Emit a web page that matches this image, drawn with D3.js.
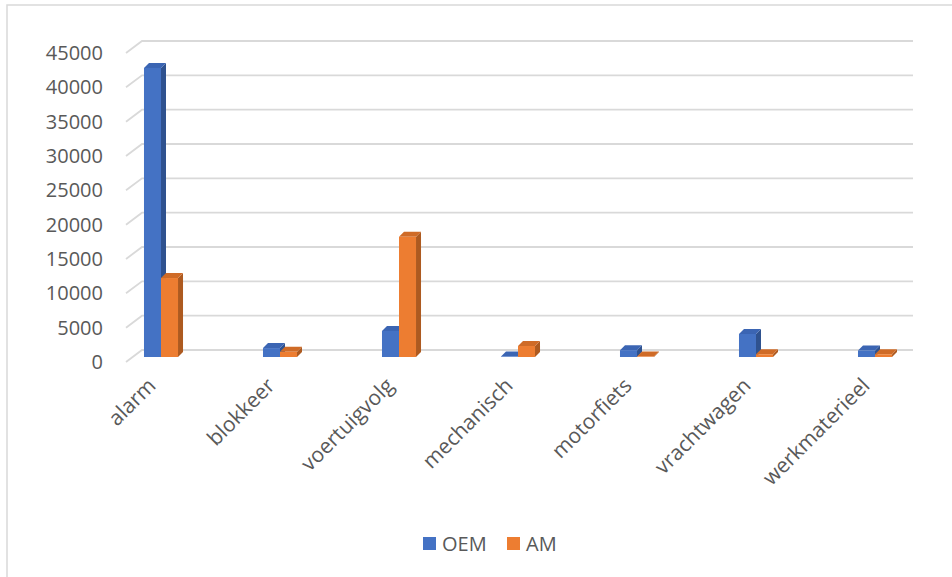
<!DOCTYPE html>
<html>
<head>
  <meta charset="UTF-8">
  <title>OEM vs AM</title>
  <style>
    body { margin: 0; background: #ffffff; }
    svg { display: block; font-family: "Open Sans", "Noto Sans", sans-serif; }
    .tick-label { fill: #595959; font-size: 20px; }
    .cat-label { fill: #595959; font-size: 21px; }
  </style>
</head>
<body>
<svg></svg>

<script src="https://d3js.org/d3.v7.min.js"></script>
<script>

let width = 952, height = 577;

// data
const categories = ["alarm", "blokkeer", "voertuigvolg", "mechanisch", "motorfiets", "vrachtwagen", "werkmaterieel"];
const series = ["OEM", "AM"];
const oemValues = [42100, 1300, 3800, 60, 1000, 3350, 950];
const amValues = [11500, 750, 17500, 1600, 60, 400, 400];
const yTicks = [0, 5000, 10000, 15000, 20000, 25000, 30000, 35000, 40000, 45000];

const colors = {
  OEM: { front: "#4472c4", side: "#2f528f", top: "#3b65b3" },
  AM:  { front: "#ed7d31", side: "#ad5a20", top: "#cf6b27" }
};

let svg = d3.select("svg")
    .attr("width", width)
    .attr("height", height);

// chart border (only left and top are inside the frame)
svg.append("rect")
  .attr("x", 7).attr("y", 5)
  .attr("width", 980).attr("height", 620)
  .attr("fill", "none")
  .attr("stroke", "#d9d9d9")
  .attr("stroke-width", 1.5);

// back wall scale and front (bar face) scale
const yBack = d3.scaleLinear().domain([0, 45000]).range([350, 41]);
const yFront = d3.scaleLinear().domain([0, 45000]).range([357, 48]);

const x0 = d3.scaleBand()
  .domain(categories)
  .range([101.5, 934.5])
  .paddingInner(0.714)
  .paddingOuter(0.357);

const x1 = d3.scaleBand()
  .domain(series)
  .range([0, x0.bandwidth()]);

// gridlines: back wall line + left side-wall diagonal
const grid = svg.append("g").attr("class", "grid");
grid.selectAll("path")
  .data(yTicks)
  .enter()
  .append("path")
    .attr("d", d => "M126," + (yBack(d) + 12) + " L142," + yBack(d) + " L913," + yBack(d))
    .attr("fill", "none")
    .attr("stroke", "#d9d9d9")
    .attr("stroke-width", 1.8);

// y tick labels
svg.append("g")
  .selectAll("text")
  .data(yTicks)
  .enter()
  .append("text")
    .attr("class", "tick-label")
    .attr("x", 103)
    .attr("y", d => yBack(d) + 12)
    .attr("dy", "0.35em")
    .attr("text-anchor", "end")
    .text(d => d);

// bars
const rows = categories.map((c, i) => ({ cat: c, OEM: oemValues[i], AM: amValues[i] }));
const ddx = 5, ddy = -5;

rows.forEach(row => {
  series.forEach(s => {
    let xl = x0(row.cat) + x1(s);
    let xr = xl + x1.bandwidth();
    let yt = yFront(row[s]);
    let yb = yFront(0);
    let g = svg.append("g").attr("class", "bar");
    // side face
    g.append("path")
      .attr("d", "M" + xr + "," + yb + " L" + (xr + ddx) + "," + (yb + ddy) +
                 " L" + (xr + ddx) + "," + (yt + ddy) + " L" + xr + "," + yt + "Z")
      .attr("fill", colors[s].side);
    // top face
    g.append("path")
      .attr("d", "M" + xl + "," + yt + " L" + (xl + ddx) + "," + (yt + ddy) +
                 " L" + (xr + ddx) + "," + (yt + ddy) + " L" + xr + "," + yt + "Z")
      .attr("fill", colors[s].top);
    // front face
    g.append("rect")
      .attr("x", xl)
      .attr("y", yt)
      .attr("width", xr - xl)
      .attr("height", yb - yt)
      .attr("fill", colors[s].front);
  });
});

// category labels, rotated
svg.append("g")
  .selectAll("text")
  .data(categories)
  .enter()
  .append("text")
    .attr("class", "cat-label")
    .attr("text-anchor", "end")
    .attr("transform", d => "translate(" + (x0(d) + x0.bandwidth() / 2 - 4) + ",387) rotate(-45)")
    .text(d => d);

// legend
const legend = svg.append("g").attr("class", "legend");
const legendX = [423, 507];
series.forEach((s, i) => {
  legend.append("rect")
    .attr("x", legendX[i])
    .attr("y", 537)
    .attr("width", 13)
    .attr("height", 13)
    .attr("fill", colors[s].front);
  legend.append("text")
    .attr("class", "tick-label")
    .attr("x", legendX[i] + 19)
    .attr("y", 543.5)
    .attr("dy", "0.35em")
    .text(s);
});

</script>
</body>
</html>
